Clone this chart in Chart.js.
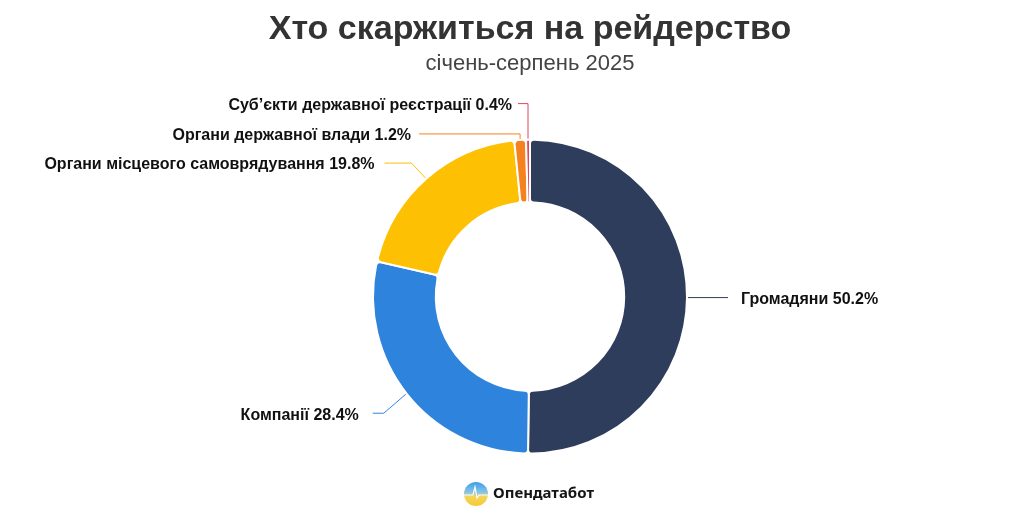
<!DOCTYPE html>
<html lang="uk">
<head>
  <meta charset="UTF-8">
  <title>Хто скаржиться на рейдерство</title>
  <script src="https://cdn.jsdelivr.net/npm/chart.js"></script>
  <style>
    html, body { margin: 0; padding: 0; background: #fff; }
    .wrap { width: 1024px; height: 521px; position: relative; }
  </style>
</head>
<body>
<div class="wrap">
  <canvas id="grafico" width="1024" height="521"></canvas>
</div>

<script>
  // Дані
  const categorias = [
    'Громадяни',
    'Компанії',
    'Органи місцевого самоврядування',
    'Органи державної влади',
    'Суб’єкти державної реєстрації'
  ];
  const valores = [50.2, 28.4, 19.8, 1.2, 0.4];
  const cores = ['#2f3d5c', '#2e84dc', '#fdc003', '#f5821f', '#e3455a'];

  // Розташування підписів (зміщення від краю сектора)
  const posicoes = [
    { elbow: [0, 0],    run: 40,  gap: 13, side: 'right' },
    { elbow: [-22, 19], run: 11,  gap: 14, side: 'left' },
    { elbow: [-14, -15], run: 27, gap: 10, side: 'left' },
    { elbow: [0, -5],   run: 101, gap: 8,  side: 'left' },
    { elbow: [0, -35],  run: 10,  gap: 6,  side: 'left' }
  ];

  const rotulos = {
    id: 'rotulos',
    afterDatasetsDraw(chart) {
      const ctx = chart.ctx;
      const meta = chart.getDatasetMeta(0);
      ctx.save();
      meta.data.forEach((arc, i) => {
        const p = arc.getProps(['x', 'y', 'startAngle', 'endAngle', 'outerRadius'], true);
        const mid = (p.startAngle + p.endAngle) / 2;
        const ax = p.x + Math.cos(mid) * (p.outerRadius + 1);
        const ay = p.y + Math.sin(mid) * (p.outerRadius + 1);
        const pos = posicoes[i];
        const ex = ax + pos.elbow[0];
        const ey = ay + pos.elbow[1];
        const dir = pos.side === 'right' ? 1 : -1;
        const lx = ex + dir * pos.run;

        ctx.strokeStyle = cores[i];
        ctx.lineWidth = 1;
        ctx.beginPath();
        ctx.moveTo(ax, ay);
        ctx.lineTo(ex, ey);
        ctx.lineTo(lx, ey);
        ctx.stroke();

        ctx.fillStyle = '#111';
        ctx.font = 'bold 16px "Liberation Sans", Arial, sans-serif';
        ctx.textBaseline = 'middle';
        ctx.textAlign = pos.side === 'right' ? 'left' : 'right';
        ctx.fillText(categorias[i] + ' ' + valores[i].toFixed(1) + '%', lx + dir * pos.gap, ey + 2);
      });
      ctx.restore();
    }
  };

  // Логотип внизу
  const logo = {
    id: 'logo',
    afterDraw(chart) {
      const ctx = chart.ctx;
      const cx = 476, cy = 494, r = 12;
      ctx.save();
      const g = ctx.createLinearGradient(0, cy - r, 0, cy + r);
      g.addColorStop(0, '#3a9fe6');
      g.addColorStop(0.45, '#8cc6e8');
      g.addColorStop(0.6, '#f3d65a');
      g.addColorStop(1, '#f6c932');
      ctx.fillStyle = g;
      ctx.beginPath();
      ctx.arc(cx, cy, r, 0, Math.PI * 2);
      ctx.fill();
      ctx.strokeStyle = '#ffffff';
      ctx.lineWidth = 1.2;
      ctx.beginPath();
      ctx.moveTo(cx - r, cy + 1);
      ctx.lineTo(cx - 3, cy + 1);
      ctx.lineTo(cx - 1, cy - 7);
      ctx.lineTo(cx + 1, cy + 4);
      ctx.lineTo(cx + 3, cy + 1);
      ctx.lineTo(cx + r, cy + 1);
      ctx.stroke();
      ctx.fillStyle = '#151515';
      ctx.font = 'bold 15px "Noto Sans", sans-serif';
      ctx.textBaseline = 'middle';
      ctx.textAlign = 'left';
      ctx.fillText('Опендатабот', 493, cy);
      ctx.restore();
    }
  };

  new Chart(document.getElementById('grafico'), {
    type: 'doughnut',
    data: {
      labels: categorias,
      datasets: [{
        data: valores,
        backgroundColor: cores,
        borderColor: '#ffffff',
        borderWidth: 2,
        borderRadius: 4,
        radius: 157,
        hoverOffset: 0
      }]
    },
    options: {
      responsive: false,
      animation: false,
      cutout: '60%',
      layout: { padding: { left: 36, right: 0, top: 0, bottom: 13 } },
      plugins: {
        legend: { display: false },
        tooltip: { enabled: false },
        title: {
          display: true,
          text: 'Хто скаржиться на рейдерство',
          color: '#333333',
          font: { family: '"Liberation Sans", Arial, sans-serif', size: 34, weight: 'bold' },
          padding: { top: 9, bottom: 1 }
        },
        subtitle: {
          display: true,
          text: 'січень-серпень 2025',
          color: '#444444',
          font: { family: '"Liberation Sans", Arial, sans-serif', size: 22 },
          padding: { top: 0, bottom: 8 }
        }
      }
    },
    plugins: [rotulos, logo]
  });
</script>
</body>
</html>
